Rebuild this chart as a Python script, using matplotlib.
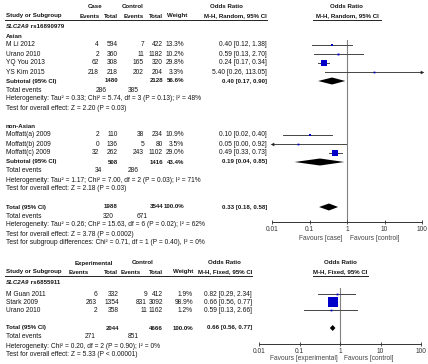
import matplotlib.pyplot as plt
from matplotlib.ticker import NullLocator

plt.rcParams['font.family'] = ['Liberation Sans', 'DejaVu Sans']

# ---- SLC2A9 rs16890979, M-H random effects ----
asian_study = ['M Li 2012', 'Urano 2010', 'YQ You 2013', 'YS Kim 2015']
asian_case_ev = [4, 2, 62, 218]
asian_case_n = [594, 360, 308, 218]
asian_ctrl_ev = [7, 11, 165, 202]
asian_ctrl_n = [422, 1182, 320, 204]
asian_weight = [13.3, 10.2, 29.8, 3.3]
asian_or = [0.40, 0.59, 0.24, 5.40]
asian_lo = [0.12, 0.13, 0.17, 0.26]
asian_hi = [1.38, 2.70, 0.34, 113.05]
asian_sub = [1480, 2128, 56.6, 0.40, 0.17, 0.90]
asian_events = [286, 385]

nonasian_study = ['Moffatt(a) 2009', 'Moffatt(b) 2009', 'Moffatt(c) 2009']
nonasian_case_ev = [2, 0, 32]
nonasian_case_n = [110, 136, 262]
nonasian_ctrl_ev = [38, 5, 243]
nonasian_ctrl_n = [234, 80, 1102]
nonasian_weight = [10.9, 3.5, 29.0]
nonasian_or = [0.10, 0.05, 0.49]
nonasian_lo = [0.02, 0.00, 0.33]
nonasian_hi = [0.40, 0.92, 0.73]
nonasian_sub = [508, 1416, 43.4, 0.19, 0.04, 0.85]
nonasian_events = [34, 286]

top_total = [1988, 3544, 100.0, 0.33, 0.18, 0.58]
top_events = [320, 671]

asian_notes = ['Heterogeneity: Tau\u00b2 = 0.33; Chi\u00b2 = 5.74, df = 3 (P = 0.13); I\u00b2 = 48%',
               'Test for overall effect: Z = 2.20 (P = 0.03)']
nonasian_notes = ['Heterogeneity: Tau\u00b2 = 1.17; Chi\u00b2 = 7.00, df = 2 (P = 0.03); I\u00b2 = 71%',
                  'Test for overall effect: Z = 2.18 (P = 0.03)']
top_notes = ['Heterogeneity: Tau\u00b2 = 0.26; Chi\u00b2 = 15.63, df = 6 (P = 0.02); I\u00b2 = 62%',
             'Test for overall effect: Z = 3.78 (P = 0.0002)',
             'Test for subgroup differences: Chi\u00b2 = 0.71, df = 1 (P = 0.40), I\u00b2 = 0%']

# ---- SLC2A9 rs6855911, M-H fixed effect ----
bot_study = ['M Guan 2011', 'Stark 2009', 'Urano 2010']
bot_exp_ev = [6, 263, 2]
bot_exp_n = [332, 1354, 358]
bot_ctrl_ev = [9, 831, 11]
bot_ctrl_n = [412, 3092, 1162]
bot_weight = [1.9, 98.9, 1.2]
bot_or = [0.82, 0.66, 0.59]
bot_lo = [0.29, 0.56, 0.13]
bot_hi = [2.34, 0.77, 2.66]
bot_total = [2044, 4666, 100.0, 0.66, 0.56, 0.77]
bot_events = [271, 851]
bot_notes = ['Heterogeneity: Chi\u00b2 = 0.20, df = 2 (P = 0.90); I\u00b2 = 0%',
             'Test for overall effect: Z = 5.33 (P < 0.00001)']

tick_vals = [0.01, 0.1, 1, 10, 100]
tick_labels = ['0.01', '0.1', '1', '10', '100']

FS = 4.8
FSB = 4.4
INK = '#151515'
BLUE = '#0000c8'
W, H = 428, 364

fig = plt.figure(figsize=(W / 100, H / 100), dpi=100)
ax_t = fig.add_axes([0, 0, 1, 1])
ax_t.set_xlim(0, W)
ax_t.set_ylim(H, 0)
ax_t.axis('off')


def txt(x, y, s, ha='left', bold=False, italic=False, color=INK):
    return ax_t.text(x, y, s, ha=ha, va='center', fontsize=FSB if bold else FS, color=color,
                     fontweight='bold' if bold else 'normal',
                     fontstyle='italic' if italic else 'normal')


def fmt_or(o, lo, hi):
    return f'{o:.2f} [{lo:.2f}, {hi:.2f}]'


def gene_title(x, y, snp):
    t = txt(x, y, 'SLC2A9', bold=True, italic=True)
    bb = t.get_window_extent(renderer=fig.canvas.get_renderer())
    txt(bb.x1, y, ' ' + snp, bold=True)


def forest_axes(x0, x1, y_top, y_axis):
    ax = fig.add_axes([x0 / W, 1 - y_axis / H, (x1 - x0) / W, (y_axis - y_top) / H])
    ax.set_xscale('log')
    ax.set_xlim(0.01, 100)
    ax.set_ylim(y_axis, y_top)
    ax.patch.set_alpha(0)
    for s in ['left', 'right', 'top']:
        ax.spines[s].set_visible(False)
    ax.spines['bottom'].set_color('#333')
    ax.spines['bottom'].set_linewidth(0.7)
    ax.set_yticks([])
    ax.set_xticks(tick_vals)
    ax.set_xticklabels(tick_labels)
    ax.xaxis.set_minor_locator(NullLocator())
    ax.tick_params(axis='x', direction='inout', length=3, width=0.6, pad=1.5,
                   labelsize=FS, colors='#333')
    return ax


def draw_study(ax, y, est, lo, hi, w, wmax, side_max):
    lo_c, hi_c = max(lo, 0.01), min(hi, 100)
    ax.plot([lo_c, hi_c], [y, y], color='#454545', lw=0.7, clip_on=False, zorder=2)
    if lo < 0.01:
        ax.plot(0.01, y, marker='<', ms=2.6, color='#222', mew=0, clip_on=False)
    if hi > 100:
        ax.plot(100, y, marker='>', ms=2.6, color='#222', mew=0, clip_on=False)
    side = max(1.8, side_max * w / wmax)
    ax.plot(est, y, marker='s', ms=side * 0.72, color=BLUE, mew=0, zorder=3)


def draw_diamond(ax, y, est, lo, hi, h=3.5):
    ax.fill([lo, est, hi, est], [y, y - h, y, y + h], color='black', lw=0, zorder=3)


def study_row(y, cols, name, a, b, c, d, w, o, lo, hi, bold=False):
    txt(6, y, name, bold=bold)
    for x, v in zip(cols[:4], [a, b, c, d]):
        if v != '':
            txt(x, y, str(v), ha='right', bold=bold)
    txt(cols[4], y, f'{w:.1f}%', ha='right', bold=bold)
    txt(cols[5], y, fmt_or(o, lo, hi), ha='right', bold=bold)


# ================= top panel =================
row = lambda i: 27 + 9 * i
cols_top = [99, 118, 144, 163, 184, 267]

txt(95, 7, 'Case', ha='center', bold=True)
txt(133, 7, 'Control', ha='center', bold=True)
txt(226, 7, 'Odds Ratio', ha='center', bold=True)
txt(346, 7, 'Odds Ratio', ha='center', bold=True)
txt(6, 16, 'Study or Subgroup', bold=True)
for x, s in zip([100, 118, 144, 163, 187], ['Events', 'Total', 'Events', 'Total', 'Weight']):
    txt(x, 16, s, ha='right', bold=True)
txt(267, 16, 'M-H, Random, 95% CI', ha='right', bold=True)
txt(347, 16, 'M-H, Random, 95% CI', ha='center', bold=True)
ax_t.plot([5, 267], [19.5, 19.5], color='#222', lw=0.7)
ax_t.plot([313, 381], [19.5, 19.5], color='#222', lw=0.7)

gene_title(6, row(0), 'rs16890979')

ax1 = forest_axes(272, 422, 0, 222)
ax1.plot([1, 1], [40, 222], color='#808080', lw=0.8, zorder=1)
wmax_top = max(asian_weight + nonasian_weight)

groups = [
    ('Asian', 1, asian_study, asian_case_ev, asian_case_n, asian_ctrl_ev, asian_ctrl_n,
     asian_weight, asian_or, asian_lo, asian_hi, asian_sub, asian_events, asian_notes, 101),
    ('non-Asian', 11, nonasian_study, nonasian_case_ev, nonasian_case_n, nonasian_ctrl_ev,
     nonasian_ctrl_n, nonasian_weight, nonasian_or, nonasian_lo, nonasian_hi, nonasian_sub,
     nonasian_events, nonasian_notes, 98),
]
for (label, r0, st, a, b, c, d, w, o, lo, hi, sub, ev, notes, ev_x) in groups:
    txt(6, row(r0), label, bold=True)
    for k in range(len(st)):
        y = row(r0 + 1 + k)
        study_row(y, cols_top, st[k], a[k], b[k], c[k], d[k], w[k], o[k], lo[k], hi[k])
        draw_study(ax1, y, o[k], lo[k], hi[k], w[k], wmax_top, 5.6)
    ys = row(r0 + 1 + len(st))
    study_row(ys, cols_top, 'Subtotal (95% CI)', '', sub[0], '', sub[1], sub[2],
              sub[3], sub[4], sub[5], bold=True)
    draw_diamond(ax1, ys, sub[3], sub[4], sub[5])
    txt(6, ys + 9, 'Total events')
    txt(ev_x, ys + 9, str(ev[0]), ha='center')
    txt(133, ys + 9, str(ev[1]), ha='center')
    txt(6, ys + 18, notes[0])
    txt(6, ys + 27, notes[1])

yt = row(20)
study_row(yt, cols_top, 'Total (95% CI)', '', top_total[0], '', top_total[1], top_total[2],
          top_total[3], top_total[4], top_total[5], bold=True)
draw_diamond(ax1, yt, top_total[3], top_total[4], top_total[5])
txt(6, row(21), 'Total events')
txt(108, row(21), str(top_events[0]), ha='center')
txt(142, row(21), str(top_events[1]), ha='center')
for i, s in enumerate(top_notes):
    txt(6, row(22 + i), s)
txt(343, 238, 'Favours [case]', ha='right', color='#444')
txt(350, 238, 'Favours [control]', color='#444')

# ================= bottom panel =================
cols_bot = [97, 119, 147, 163, 193, 252]
bot_rows = [294, 302, 310]

txt(94, 263, 'Experimental', ha='center', bold=True)
txt(143, 263, 'Control', ha='center', bold=True)
txt(224, 263, 'Odds Ratio', ha='center', bold=True)
txt(340, 263, 'Odds Ratio', ha='center', bold=True)
txt(6, 272, 'Study or Subgroup', bold=True)
for x, s in zip([89, 118, 141, 163, 193], ['Events', 'Total', 'Events', 'Total', 'Weight']):
    txt(x, 272, s, ha='right', bold=True)
txt(252, 272, 'M-H, Fixed, 95% CI', ha='right', bold=True)
txt(340, 272, 'M-H, Fixed, 95% CI', ha='center', bold=True)
ax_t.plot([5, 252], [275.5, 275.5], color='#222', lw=0.7)
ax_t.plot([313, 368], [275.5, 275.5], color='#222', lw=0.7)

gene_title(6, 283, 'rs6855911')

ax2 = forest_axes(259, 421, 256, 344)
ax2.plot([1, 1], [288, 344], color='#808080', lw=0.8, zorder=1)
for k in range(len(bot_study)):
    y = bot_rows[k]
    study_row(y, cols_bot, bot_study[k], bot_exp_ev[k], bot_exp_n[k], bot_ctrl_ev[k],
              bot_ctrl_n[k], bot_weight[k], bot_or[k], bot_lo[k], bot_hi[k])
    draw_study(ax2, y, bot_or[k], bot_lo[k], bot_hi[k], bot_weight[k], max(bot_weight), 10.5)

study_row(328, cols_bot, 'Total (95% CI)', '', bot_total[0], '', bot_total[1], bot_total[2],
          bot_total[3], bot_total[4], bot_total[5], bold=True)
draw_diamond(ax2, 328, bot_total[3], bot_total[4], bot_total[5], h=3)
txt(6, 337, 'Total events')
txt(90, 337, str(bot_events[0]), ha='center')
txt(133, 337, str(bot_events[1]), ha='center')
txt(6, 346, bot_notes[0])
txt(6, 355, bot_notes[1])
txt(338, 358, 'Favours [experimental]', ha='right', color='#444')
txt(344, 358, 'Favours [control]', color='#444')

fig.savefig('out.png', dpi=100)
